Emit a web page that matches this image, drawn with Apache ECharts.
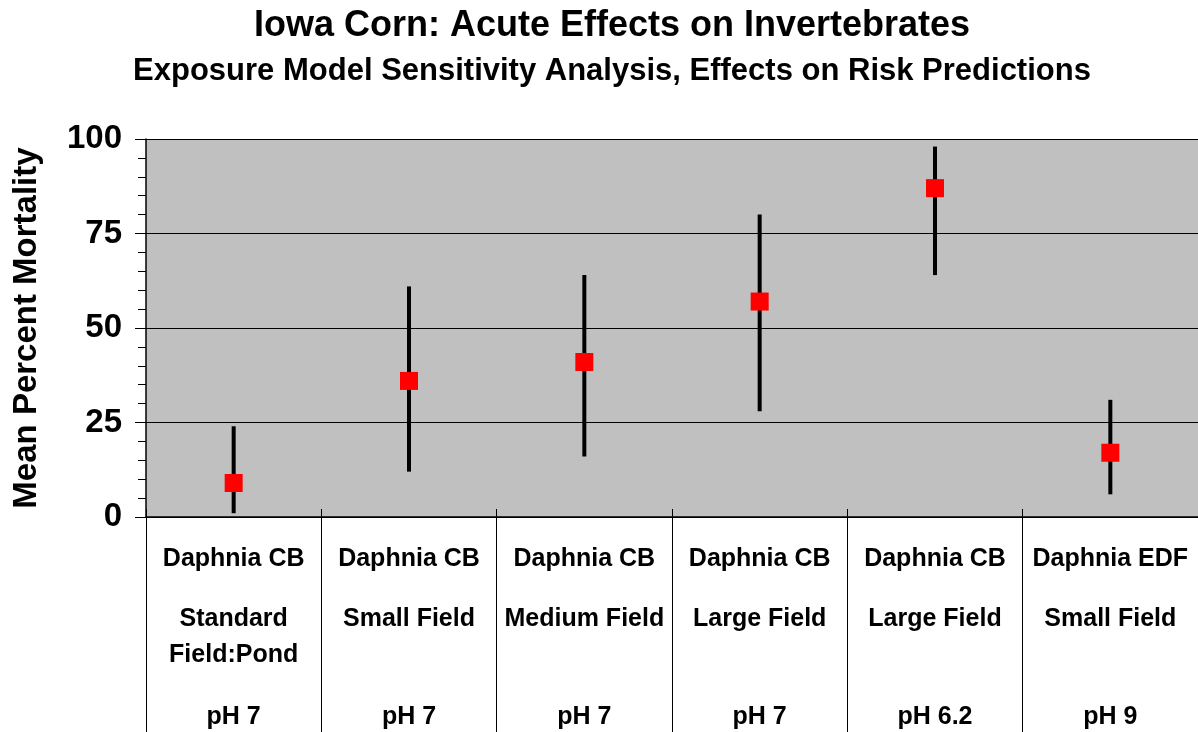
<!DOCTYPE html>
<html>
<head>
<meta charset="utf-8">
<title>Iowa Corn: Acute Effects on Invertebrates</title>
<script src="https://cdn.jsdelivr.net/npm/echarts@6/dist/echarts.min.js"></script>
<style>
  html, body { margin: 0; padding: 0; background: #fff; }
  #chart { width: 1198px; height: 732px; }
</style>
</head>
<body>
<div id="chart"></div>
<script>
// categories (three label rows under the axis)
const species = ['Daphnia CB', 'Daphnia CB', 'Daphnia CB', 'Daphnia CB', 'Daphnia CB', 'Daphnia EDF'];
const scenarios = ['Standard\nField:Pond', 'Small Field', 'Medium Field', 'Large Field', 'Large Field', 'Small Field'];
const phLevels = ['pH 7', 'pH 7', 'pH 7', 'pH 7', 'pH 6.2', 'pH 9'];

// mean percent mortality and its range
const meanMortality = [9, 36, 41, 57, 87, 17];
const lowMortality = [1, 12, 16, 28, 64, 6];
const highMortality = [24, 61, 64, 80, 98, 31];

const yTicks = [0, 25, 50, 75, 100];

const font = '"Liberation Sans", Arial, sans-serif';

const chart = echarts.init(document.getElementById('chart'));

function catAxis(data, margin, lineHeight, extra) {
  return Object.assign({
    type: 'category',
    data: data,
    position: 'bottom',
    boundaryGap: true,
    axisLine: { show: false },
    axisTick: { show: false },
    axisLabel: {
      interval: 0,
      margin: margin,
      color: '#000',
      fontFamily: font,
      fontWeight: 'bold',
      fontSize: 25,
      lineHeight: lineHeight,
      align: 'center'
    },
    splitLine: { show: false }
  }, extra || {});
}

const option = {
  backgroundColor: '#fff',
  animation: false,
  title: [
    {
      text: 'Iowa Corn: Acute Effects on Invertebrates',
      left: 607, top: 3, textAlign: 'center',
      textStyle: { fontFamily: font, fontWeight: 'bold', fontSize: 36, color: '#000' }
    },
    {
      text: 'Exposure Model Sensitivity Analysis, Effects on Risk Predictions',
      left: 607, top: 51, textAlign: 'center',
      textStyle: { fontFamily: font, fontWeight: 'bold', fontSize: 31, color: '#000' }
    }
  ],
  grid: {
    left: 146, right: -1, top: 139, bottom: 215,
    show: true, backgroundColor: '#C0C0C0', borderWidth: 0
  },
  xAxis: [
    catAxis(species, 30, 25, {
      axisLine: { show: true, lineStyle: { color: '#000', width: 1.5 } },
      axisTick: { show: true, inside: false, length: 215, lineStyle: { color: '#000', width: 1 } }
    }),
    catAxis(scenarios, 84, 36, {
      axisTick: { show: true, inside: true, length: 8, lineStyle: { color: '#000', width: 1 } }
    }),
    catAxis(phLevels, 188, 25)
  ],
  yAxis: {
    type: 'value',
    min: 0, max: 100, interval: 25,
    name: 'Mean Percent Mortality',
    nameLocation: 'middle',
    nameRotate: 90,
    nameGap: 103,
    nameTextStyle: { fontFamily: font, fontWeight: 'bold', fontSize: 33, color: '#000' },
    axisLine: { show: true, lineStyle: { color: '#000', width: 1.5 } },
    axisTick: { show: true, inside: false, length: 11, lineStyle: { color: '#000' } },
    minorTick: { show: true, splitNumber: 5, length: 8, lineStyle: { color: '#000' } },
    axisLabel: {
      margin: 24,
      color: '#000',
      fontFamily: font,
      fontWeight: 'bold',
      fontSize: 33,
      formatter: function (v) { return yTicks.indexOf(v) >= 0 ? String(v) : ''; }
    },
    splitLine: { show: true, lineStyle: { color: '#000', width: 1 } }
  },
  series: [
    {
      type: 'custom',
      xAxisIndex: 0,
      data: lowMortality.map(function (lo, i) { return [i, lo, highMortality[i]]; }),
      renderItem: function (params, api) {
        const p0 = api.coord([api.value(0), api.value(1)]);
        const p1 = api.coord([api.value(0), api.value(2)]);
        return {
          type: 'line',
          shape: { x1: p0[0], y1: p0[1], x2: p1[0], y2: p1[1] },
          style: { stroke: '#000', lineWidth: 4 }
        };
      },
      z: 2
    },
    {
      type: 'scatter',
      xAxisIndex: 0,
      data: meanMortality.map(function (m, i) { return [i, m]; }),
      symbol: 'rect',
      symbolSize: 18,
      itemStyle: { color: '#FF0000', opacity: 1 },
      z: 3
    }
  ]
};

chart.setOption(option);
</script>
</body>
</html>
